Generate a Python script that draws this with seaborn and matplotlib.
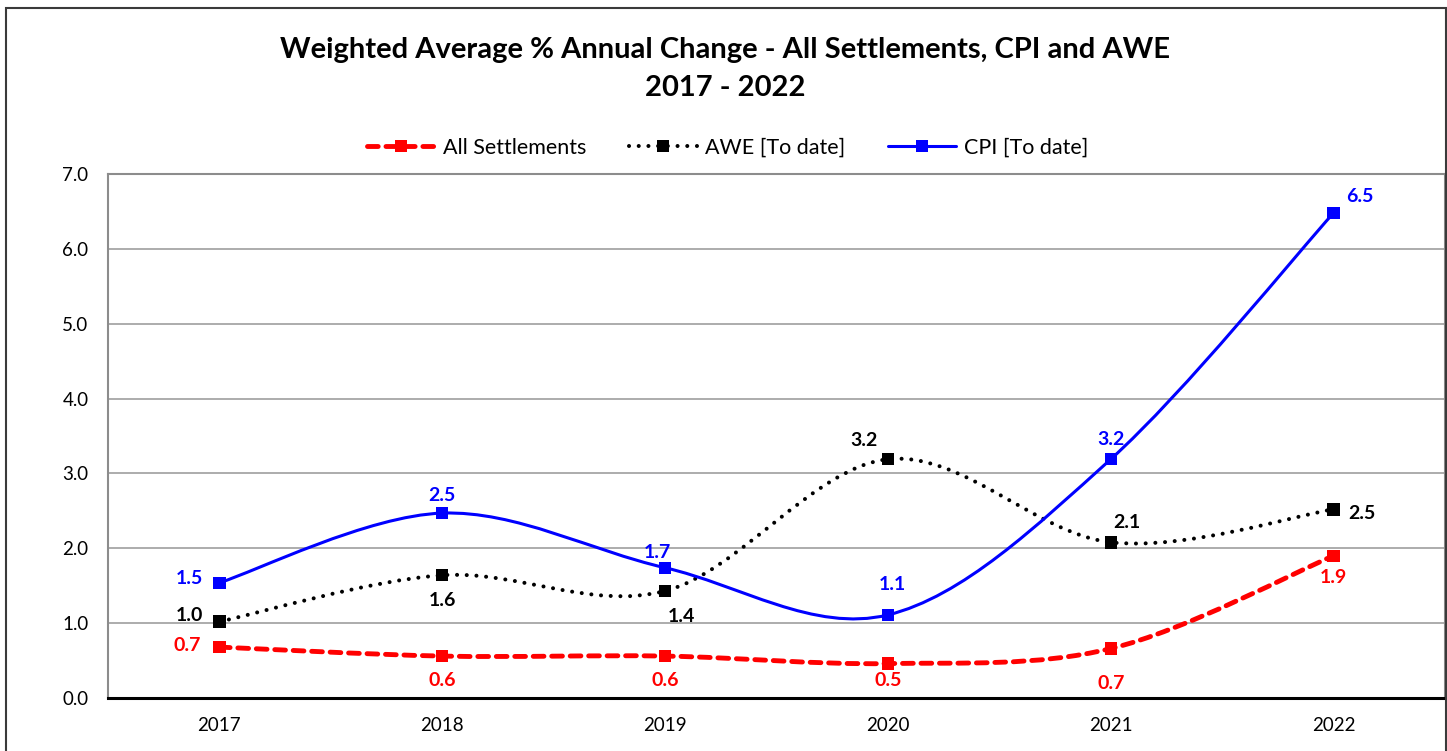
import numpy as np
import pandas as pd
import matplotlib
matplotlib.use("Agg")
import matplotlib.pyplot as plt
import seaborn as sns
from matplotlib.path import Path
from matplotlib.patches import PathPatch, Rectangle
from matplotlib.lines import Line2D

# Dados
anos = ["2017", "2018", "2019", "2020", "2021", "2022"]
all_settlements = [0.68, 0.56, 0.56, 0.46, 0.66, 1.90]
awe = [1.02, 1.64, 1.43, 3.19, 2.08, 2.52]
cpi = [1.54, 2.47, 1.74, 1.11, 3.19, 6.48]

series = ["All Settlements", "AWE [To date]", "CPI [To date]"]
cores = {"All Settlements": "#ff0000", "AWE [To date]": "#000000", "CPI [To date]": "#0000ff"}

sns.set_style("white")
plt.rcParams["font.family"] = ["Lato", "DejaVu Sans"]
plt.rcParams["text.color"] = "black"

df = pd.DataFrame({
    "ano": list(range(len(anos))) * 3,
    "valor": all_settlements + awe + cpi,
    "serie": np.repeat(series, len(anos)),
})

W, H = 1447, 751
fig = plt.figure(figsize=(W / 100, H / 100), dpi=100)
ax = fig.add_axes([108 / W, (H - 698) / H, (1445 - 108) / W, (698 - 174) / H])

# moldura externa do gráfico
fig.patches.append(Rectangle((6 / W, -0.05), (1446 - 6) / W, (H - 8) / H + 0.05,
                             transform=fig.transFigure, fill=False,
                             edgecolor="#3a3a3a", linewidth=1.5))


def curva_suave(ys):
    # curva do tipo Excel "smoothed line" (Bezier cúbica, Catmull-Rom)
    pts = np.column_stack([np.arange(len(ys)), ys]).astype(float)
    ext = np.vstack([pts[0], pts, pts[-1]])
    verts = [pts[0]]
    codes = [Path.MOVETO]
    for i in range(len(pts) - 1):
        p0, p1, p2, p3 = ext[i], ext[i + 1], ext[i + 2], ext[i + 3]
        verts += [p1 + (p2 - p0) / 6, p2 - (p3 - p1) / 6, p2]
        codes += [Path.CURVE4] * 3
    return Path(verts, codes)


estilos = {
    "All Settlements": dict(linewidth=3.5, linestyle=(0, (2.2, 1.6)), capstyle="round"),
    "AWE [To date]": dict(linewidth=2.9, linestyle=(0, (0.01, 2.4)), capstyle="round"),
    "CPI [To date]": dict(linewidth=2.2, linestyle="-", capstyle="butt"),
}

for nome, ys in zip(series, [all_settlements, awe, cpi]):
    st = estilos[nome]
    patch = PathPatch(curva_suave(ys), fill=False, edgecolor=cores[nome],
                      linewidth=st["linewidth"], linestyle=st["linestyle"], zorder=3)
    patch.set_capstyle(st["capstyle"])
    ax.add_patch(patch)

sns.scatterplot(data=df, x="ano", y="valor", hue="serie", palette=cores,
                marker="s", s=80, edgecolor="none", legend=False, ax=ax, zorder=4)

# rótulos dos dados: deslocamento em pixels
desloc = {
    "All Settlements": [(-32, 2), (0, -24), (0, -24), (0, -17), (0, -35), (0, -22)],
    "AWE [To date]": [(-30, 6), (0, -25), (16, -26), (-24, 19), (16, 20), (28, -4)],
    "CPI [To date]": [(-30, 4), (0, 18), (-8, 15), (4, 30), (0, 20), (26, 16)],
}
for nome, ys in zip(series, [all_settlements, awe, cpi]):
    for i, v in enumerate(ys):
        dx, dy = desloc[nome][i]
        ax.annotate(f"{v:.1f}", (i, v), xytext=(dx, dy), textcoords="offset pixels",
                    ha="center", va="center", color=cores[nome], fontsize=14,
                    fontweight="bold", zorder=5)

ax.set_xlim(-0.5, len(anos) - 0.5)
ax.set_ylim(0, 7)
ax.set_xticks(range(len(anos)))
ax.set_xticklabels(anos)
ax.set_yticks(np.arange(0, 7.01, 1.0))
ax.set_yticklabels([f"{t:.1f}" for t in np.arange(0, 7.01, 1.0)])
ax.tick_params(axis="both", length=0, labelsize=13.5, colors="#000000")
ax.tick_params(axis="y", pad=14)
ax.tick_params(axis="x", pad=14)
ax.set_xlabel("")
ax.set_ylabel("")
ax.grid(axis="y", color="#a6a6a6", linewidth=1.3)
ax.set_axisbelow(True)
for lado in ["left", "top", "right"]:
    ax.spines[lado].set_color("#8c8c8c")
    ax.spines[lado].set_linewidth(1.5)
ax.spines["bottom"].set_color("#000000")
ax.spines["bottom"].set_linewidth(2.2)

fig.text(0.501, (H - 50) / H, "Weighted Average % Annual Change - All Settlements, CPI and AWE",
         ha="center", va="center", fontsize=21, fontweight="bold", color="black")
fig.text(0.501, (H - 88) / H, "2017 - 2022", ha="center", va="center",
         fontsize=21, fontweight="bold", color="black")

handles = []
for nome in series:
    st = estilos[nome]
    h = Line2D([], [], color=cores[nome], linewidth=st["linewidth"], linestyle=st["linestyle"],
               marker="s", markersize=9, markeredgewidth=0, dash_capstyle=st["capstyle"])
    handles.append(h)
fig.legend(handles, series, loc="center", bbox_to_anchor=(0.503, (H - 148) / H), ncol=3,
           frameon=False, fontsize=15.5, handlelength=3.15, handletextpad=0.37,
           columnspacing=2.0, labelcolor="black")

fig.savefig("out.png", dpi=100)
